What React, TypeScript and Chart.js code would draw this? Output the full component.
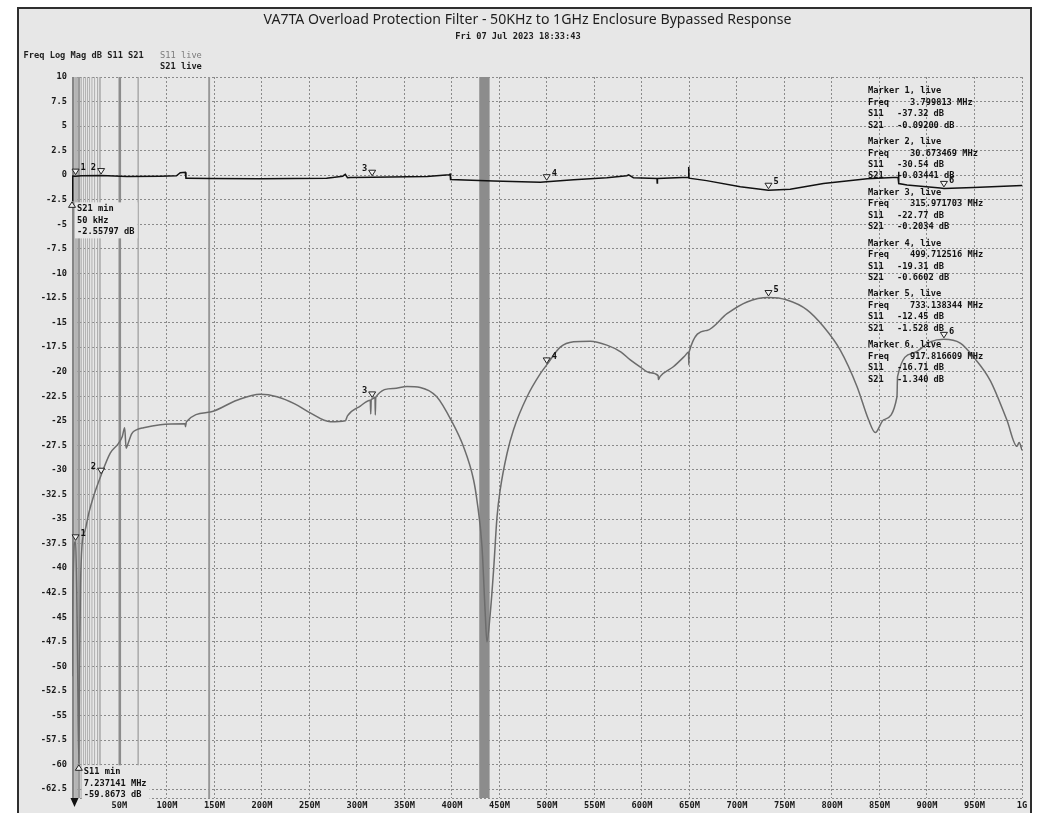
import React, { useEffect, useRef } from 'react';
import { Chart, registerables } from 'chart.js';

Chart.register(...registerables);

// ---------------- data ----------------
const s11Freq = [
  0.05, 0.5, 1.5, 2.5, 3.8, 5, 6, 7.24, 8, 9,
  10.5, 14, 18, 22.7, 30.67, 40.3, 49, 53, 55.5, 57,
  58, 63, 68.4, 75.4, 93, 119, 119.5, 120.5, 145.6, 173.7,
  198, 215.8, 235, 250.8, 272, 287.7, 290, 303.5, 314, 314.5,
  315, 316, 319, 319.3, 319.8, 338.6, 352.6, 366.6, 384, 400,
  412, 422.7, 426.3, 431.6, 435, 436.8, 440.3, 443.8, 447.4, 450.8,
  458, 464.8, 479, 493, 499.7, 514, 528, 545.6, 563, 578,
  587.7, 598, 608, 617, 617.3, 619, 633, 645, 649, 649.3,
  649.6, 668.4, 689.5, 710.5, 733, 752.6, 773.7, 791, 808.7, 826.3,
  838.5, 845.6, 854.3, 868.4, 869, 885.9, 903.5, 917.8, 935, 949,
  966.6, 984, 994.7, 997, 1000,
];
const s11Db = [
  -51, -45, -40, -37.5, -37.32, -42, -50, -59.87, -50, -42,
  -37.8, -36.1, -34.3, -32.7, -30.54, -28.3, -27.3, -26.6, -25.7, -27.8,
  -27.6, -26.3, -25.9, -25.7, -25.4, -25.3, -25.6, -25.1, -24.1, -22.9,
  -22.3, -22.55, -23.3, -24.2, -25.1, -25.0, -24.5, -23.5, -22.9, -24.3,
  -22.85, -22.77, -22.6, -24.4, -22.6, -21.7, -21.5, -21.6, -22.55, -25.1,
  -27.6, -31.0, -33.1, -37.8, -44.6, -47.5, -44.6, -40.2, -34.8, -32.0,
  -28.3, -25.9, -22.55, -20.2, -19.31, -17.5, -16.96, -16.9, -17.3, -18.0,
  -18.8, -19.5, -20.1, -20.4, -20.8, -20.5, -19.5, -18.4, -18.0, -19.3,
  -18.0, -15.8, -14.1, -12.9, -12.45, -12.7, -13.7, -15.4, -17.8, -21.5,
  -24.9, -26.2, -24.9, -22.55, -20.5, -18.1, -16.96, -16.71, -17.1, -18.5,
  -20.9, -24.9, -27.6, -27.2, -28.0,
];

const s21Freq = [
  0.05, 0.4, 1, 3.8, 10, 30.67, 58, 93, 110, 114,
  119.3, 120, 121, 145.6, 198, 268, 285, 287.7, 290, 293,
  316, 373.7, 397, 398, 398.5, 443.8, 493, 499.7, 528, 563,
  584, 586, 591, 615.8, 616, 616.3, 649, 649.2, 649.5, 668,
  703.5, 733, 756, 791, 837, 869.5, 870, 870.5, 879, 914,
  918, 949, 1000,
];
const s21Db = [
  -2.558, -0.3, -0.08, -0.092, -0.05, -0.034, -0.13, -0.1, -0.05, 0.25,
  0.3, -0.3, -0.3, -0.33, -0.35, -0.3, -0.1, 0.1, -0.25, -0.22,
  -0.2, -0.13, 0.05, 0.1, -0.43, -0.6, -0.72, -0.66, -0.45, -0.25,
  -0.05, 0.05, -0.25, -0.33, -0.8, -0.33, -0.2, 0.85, -0.3, -0.55,
  -1.18, -1.53, -1.43, -0.85, -0.35, -0.2, 0.35, -0.85, -1.0, -1.3,
  -1.34, -1.25, -1.05,
];

const markerFreq = [3.799813, 30.673469, 315.971703, 499.712516, 733.138344, 917.816609];
const markerS11 = [-37.32, -30.54, -22.77, -19.31, -12.45, -16.71];
const markerS21 = [-0.092, -0.03441, -0.2034, -0.6602, -1.528, -1.34];
const markerS11Side = ['r', 'l', 'l', 'r', 'r', 'r'];
const markerS21Side = ['r', 'l', 'l', 'r', 'r', 'r'];

const minNames = ['S21 min', 'S11 min'];
const minFreq = [0.05, 7.237141];
const minDb = [-2.55797, -59.8673];
const minFreqText = ['50 kHz', '7.237141 MHz'];
const minDbText = ['-2.55797 dB', '-59.8673 dB'];

const xTickValues = [0.05, 50, 100, 150, 200, 250, 300, 350, 400, 450, 500, 550, 600, 650, 700, 750, 800, 850, 900, 950, 1000];
const xTickLabels = ['', '50M', '100M', '150M', '200M', '250M', '300M', '350M', '400M', '450M', '500M', '550M', '600M', '650M', '700M', '750M', '800M', '850M', '900M', '950M', '1G'];
const yTickValues = [10, 7.5, 5, 2.5, 0, -2.5, -5, -7.5, -10, -12.5, -15, -17.5, -20, -22.5, -25, -27.5, -30, -32.5, -35, -37.5, -40, -42.5, -45, -47.5, -50, -52.5, -55, -57.5, -60, -62.5, -63.4];
const yTickLabels = ['10', '7.5', '5', '2.5', '0', '-2.5', '-5', '-7.5', '-10', '-12.5', '-15', '-17.5', '-20', '-22.5', '-25', '-27.5', '-30', '-32.5', '-35', '-37.5', '-40', '-42.5', '-45', '-47.5', '-50', '-52.5', '-55', '-57.5', '-60', '-62.5', ''];

// masked frequency bands (MHz)
const bandStart = [0.05, 2.4, 5.9, 9.3, 11.7, 13.8, 15.9, 18.0, 20.5, 23.3, 26.5, 28.8, 49.0, 69.0, 143.4, 428.7];
const bandEnd = [2.4, 5.9, 8.7, 10.3, 12.7, 14.8, 16.9, 19.0, 21.5, 24.3, 27.5, 30.2, 51.7, 70.3, 145.4, 439.6];
const bandShade = ['#858585', '#b4b4b4', '#9a9a9a', '#b0b0b0', '#b0b0b0', '#b0b0b0', '#b0b0b0', '#b0b0b0', '#b0b0b0', '#b0b0b0', '#a8a8a8', '#a0a0a0', '#8c8c8c', '#9c9c9c', '#979797', '#8c8c8c'];

const TITLE = 'VA7TA Overload Protection Filter - 50KHz to 1GHz Enclosure Bypassed Response';
const SUBTITLE = 'Fri 07 Jul 2023 18:33:43';
const HEADER = 'Freq Log Mag dB S11 S21';

const MONO = 'bold 8.7px "DejaVu Sans Mono"';
const MONO_REG = '8.7px "DejaVu Sans Mono"';

function pts(xs: number[], ys: number[]) {
  return xs.map((x, i) => ({ x, y: ys[i] }));
}

function downMarker(ctx: CanvasRenderingContext2D, px: number, py: number, label: string, side: string) {
  ctx.beginPath();
  ctx.moveTo(px - 3.5, py - 7);
  ctx.lineTo(px + 3.5, py - 7);
  ctx.lineTo(px, py - 1.5);
  ctx.closePath();
  ctx.fillStyle = '#f2f2f2';
  ctx.fill();
  ctx.strokeStyle = '#222';
  ctx.lineWidth = 1;
  ctx.stroke();
  ctx.fillStyle = '#111';
  ctx.font = MONO;
  ctx.textBaseline = 'middle';
  if (side === 'r') {
    ctx.textAlign = 'left';
    ctx.fillText(label, px + 5, py - 8);
  } else {
    ctx.textAlign = 'right';
    ctx.fillText(label, px - 5, py - 8);
  }
}

const overlay = {
  id: 'vnaOverlay',
  beforeDatasetsDraw(chart: any) {
    const { ctx, chartArea, scales } = chart;
    const xs = scales.x;
    ctx.save();
    ctx.beginPath();
    ctx.rect(chartArea.left, chartArea.top, chartArea.right - chartArea.left, chartArea.bottom - chartArea.top);
    ctx.clip();
    for (let i = 0; i < bandStart.length; i++) {
      const a = xs.getPixelForValue(bandStart[i]);
      const b = xs.getPixelForValue(bandEnd[i]);
      ctx.fillStyle = bandShade[i];
      ctx.fillRect(a, chartArea.top, Math.max(1, b - a), chartArea.bottom - chartArea.top);
    }
    ctx.restore();
  },
  afterDatasetsDraw(chart: any) {
    const { ctx, chartArea, scales } = chart;
    const xs = scales.x;
    const ys = scales.y;
    ctx.save();

    // markers
    for (let i = 0; i < markerFreq.length; i++) {
      const px = xs.getPixelForValue(markerFreq[i]);
      downMarker(ctx, px, ys.getPixelForValue(markerS11[i]), String(i + 1), markerS11Side[i]);
      downMarker(ctx, px, ys.getPixelForValue(markerS21[i]), String(i + 1), markerS21Side[i]);
    }

    // min markers
    for (let i = 0; i < minFreq.length; i++) {
      const px = xs.getPixelForValue(minFreq[i]);
      const py = ys.getPixelForValue(minDb[i]);
      const lines = [minNames[i], minFreqText[i], minDbText[i]];
      ctx.font = MONO;
      const w = Math.max(...lines.map((l) => ctx.measureText(l).width));
      ctx.fillStyle = '#e7e7e7';
      ctx.fillRect(px + 3, py + 2, w + 5, 36);
      ctx.beginPath();
      ctx.moveTo(px, py + 1.5);
      ctx.lineTo(px - 3.5, py + 7);
      ctx.lineTo(px + 3.5, py + 7);
      ctx.closePath();
      ctx.fillStyle = '#f2f2f2';
      ctx.fill();
      ctx.strokeStyle = '#222';
      ctx.lineWidth = 1;
      ctx.stroke();
      ctx.fillStyle = '#111';
      ctx.textAlign = 'left';
      ctx.textBaseline = 'middle';
      lines.forEach((l, k) => ctx.fillText(l, px + 5, py + 8.5 + k * 11.6));
    }

    // off-scale indicator below plot
    const ix = xs.getPixelForValue(s11Freq[0]) + 2.5;
    ctx.beginPath();
    ctx.moveTo(ix - 4, chartArea.bottom);
    ctx.lineTo(ix + 4, chartArea.bottom);
    ctx.lineTo(ix, chartArea.bottom + 9);
    ctx.closePath();
    ctx.fillStyle = '#111';
    ctx.fill();

    // marker readout
    ctx.font = MONO;
    ctx.fillStyle = '#111';
    ctx.textAlign = 'left';
    ctx.textBaseline = 'middle';
    for (let i = 0; i < markerFreq.length; i++) {
      const y0 = 91 + i * 50.8;
      ctx.fillText(`Marker ${i + 1}, live`, 868, y0);
      ctx.fillText('Freq', 868, y0 + 11.6);
      ctx.fillText(`${markerFreq[i].toFixed(6)} MHz`, 910, y0 + 11.6);
      ctx.fillText('S11', 868, y0 + 23);
      ctx.fillText(`${markerS11[i].toPrecision(4)} dB`, 897, y0 + 23);
      ctx.fillText('S21', 868, y0 + 34.4);
      ctx.fillText(`${markerS21[i].toPrecision(4)} dB`, 897, y0 + 34.4);
    }
    ctx.restore();
  },
  afterDraw(chart: any) {
    const { ctx } = chart;
    ctx.save();
    ctx.fillStyle = '#1e1e1e';
    ctx.font = '15px "Noto Sans"';
    ctx.textAlign = 'center';
    ctx.textBaseline = 'alphabetic';
    ctx.fillText(TITLE, 527.5, 24, 528);
    ctx.font = MONO;
    ctx.textBaseline = 'middle';
    ctx.fillText(SUBTITLE, 518, 36.5);
    ctx.textAlign = 'left';
    ctx.fillText(HEADER, 23.5, 55.5);
    ctx.fillText('S21 live', 160, 67);
    ctx.font = MONO_REG;
    ctx.fillStyle = '#7a7a7a';
    ctx.fillText('S11 live', 160, 55.5);
    ctx.restore();
  },
};

export default function App() {
  const ref = useRef<HTMLCanvasElement | null>(null);

  useEffect(() => {
    if (!ref.current) return;
    const chart = new Chart(ref.current, {
      type: 'scatter',
      data: {
        datasets: [
          {
            label: 'S11',
            data: pts(s11Freq, s11Db),
            showLine: true,
            borderColor: '#6c6c6c',
            borderWidth: 1.5,
            pointRadius: 0,
            cubicInterpolationMode: 'monotone',
          },
          {
            label: 'S21',
            data: pts(s21Freq, s21Db),
            showLine: true,
            borderColor: '#111111',
            borderWidth: 1.5,
            pointRadius: 0,
            tension: 0,
          },
        ],
      },
      options: {
        animation: false,
        responsive: false,
        devicePixelRatio: 1,
        layout: { padding: { top: 77, right: 16, left: 0, bottom: 0 } },
        plugins: {
          legend: { display: false },
          tooltip: { enabled: false },
          title: { display: false },
        },
        scales: {
          x: {
            type: 'linear',
            min: 0.05,
            max: 1000,
            afterBuildTicks: (s: any) => {
              s.ticks = xTickValues.map((v) => ({ value: v }));
            },
            afterFit: (s: any) => {
              s.height = 15;
            },
            ticks: {
              autoSkip: false,
              maxRotation: 0,
              padding: 3,
              color: '#1a1a1a',
              font: { family: 'DejaVu Sans Mono', size: 8.7, weight: 'bold' },
              callback: (v: any) => {
                const i = xTickValues.indexOf(Number(v));
                return i >= 0 ? xTickLabels[i] : '';
              },
            },
            grid: { color: '#8a8a8a', lineWidth: 1, drawTicks: false },
            border: { display: false, dash: [2, 2] },
          },
          y: {
            type: 'linear',
            min: -63.4,
            max: 10,
            afterBuildTicks: (s: any) => {
              s.ticks = yTickValues.map((v) => ({ value: v }));
            },
            afterFit: (s: any) => {
              s.width = 72;
            },
            ticks: {
              autoSkip: false,
              padding: 5,
              color: '#1a1a1a',
              font: { family: 'DejaVu Sans Mono', size: 8.7, weight: 'bold' },
              callback: (v: any) => {
                const i = yTickValues.indexOf(Number(v));
                return i >= 0 ? yTickLabels[i] : '';
              },
            },
            grid: { color: '#8a8a8a', lineWidth: 1, drawTicks: false },
            border: { display: false, dash: [2, 2] },
          },
        },
      },
      plugins: [overlay],
    } as any);
    return () => chart.destroy();
  }, []);

  return (
    <div style={{ position: 'fixed', left: 0, top: 0, width: 1038, height: 813, background: '#ffffff', overflow: 'hidden' }}>
      <div
        style={{
          position: 'absolute',
          left: 17,
          top: 7,
          width: 1011,
          height: 830,
          background: '#e7e7e7',
          border: '2px solid #2e2e2e',
        }}
      />
      <canvas ref={ref} width={1038} height={813} style={{ position: 'absolute', left: 0, top: 0, width: 1038, height: 813 }} />
    </div>
  );
}
